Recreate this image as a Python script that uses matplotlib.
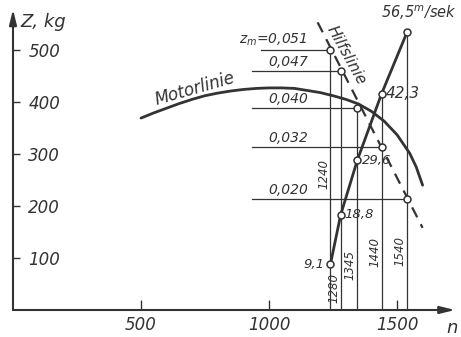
import matplotlib
matplotlib.use("Agg")
import matplotlib.pyplot as plt

# ── Data ─────────────────────────────────────────────────────────────────────

# engine speeds n (1/min) where the construction lines stand
n_pts    = [1240, 1280, 1345, 1440, 1540]
n_labels = ["1240", "1280", "1345", "1440", "1540"]

# Hilfslinie points (Z in kg) and their z_m values
hilfs_z   = [500, 460, 388, 313, 213]
zm_labels = ["0,051", "0,047", "0,040", "0,032", "0,020"]
hilfs_ext_n = [1190, 1600]          # dashed line runs a bit past the points
hilfs_ext_z = [553, 158]

# speed line (thick, through speeds in m/sek)
speed_z      = [88, 183, 288, 416, 535]
speed_labels = ["9,1", "18,8", "29,6", "42,3", "56,5"]

# Motorlinie
motor_n = [500, 550, 600, 650, 700, 750, 800, 850, 900, 950, 1000, 1050,
           1100, 1150, 1200, 1250, 1300, 1350, 1400, 1450, 1500, 1550,
           1575, 1600]
motor_z = [369, 379, 388, 397, 405, 412, 417, 421, 424, 426, 427, 427,
           426, 422, 418, 412, 405, 396, 382, 363, 337, 301,
           275, 240]

x_ticks = [500, 1000, 1500]
y_ticks = [100, 200, 300, 400, 500]

# ── Style ────────────────────────────────────────────────────────────────────

INK = "#333333"
FONT = dict(family="DejaVu Sans", style="italic", color=INK)

plt.rcParams["mathtext.fontset"] = "custom"
plt.rcParams["mathtext.it"] = "DejaVu Sans:italic"
plt.rcParams["mathtext.rm"] = "DejaVu Sans:italic"

# where the rotated n labels sit (Z of their centre)
N_LABEL_Z = [262, 42, 87, 112, 113]
ZM_LABEL_X = 1152

fig = plt.figure(figsize=(4.61, 3.37), dpi=100, facecolor="white")
ax = fig.add_axes([13 / 461, 27 / 337, 448 / 461, 310 / 337])
ax.set_xlim(0, 1750)
ax.set_ylim(0, 596)
for s in ax.spines.values():
    s.set_visible(False)
ax.patch.set_alpha(0)

# axes with arrow heads
arrow = dict(arrowstyle="-|>,head_length=0.9,head_width=0.22", lw=1.5,
             color=INK, shrinkA=0, shrinkB=0, mutation_scale=10)
ax.annotate("", xy=(1727, 0), xytext=(0, 0), arrowprops=arrow,
            annotation_clip=False)
ax.annotate("", xy=(0, 578), xytext=(0, 0), arrowprops=arrow,
            annotation_clip=False)

# ticks point inward, y labels sit right of the axis
ax.set_xticks(x_ticks)
ax.set_yticks(y_ticks)
ax.tick_params(axis="x", direction="in", length=7, width=1.0, color=INK,
               pad=4, labelsize=12, labelcolor=INK)
ax.tick_params(axis="y", direction="in", length=5, width=1.0, color=INK,
               pad=-11, labelsize=12, labelcolor=INK)
for lbl in ax.get_xticklabels() + ax.get_yticklabels():
    lbl.set_fontstyle("italic")
for lbl in ax.get_yticklabels():
    lbl.set_horizontalalignment("left")

ax.text(27, 554, "Z, kg", fontsize=13, ha="left", va="center", **FONT)
ax.text(1715, -34, "n", fontsize=13, ha="center", va="center",
        clip_on=False, **FONT)

# vertical construction lines
for n, hz, sz, lab, lz in zip(n_pts, hilfs_z, speed_z, n_labels, N_LABEL_Z):
    ax.plot([n, n], [0, max(hz, sz)], color=INK, lw=0.9)
    ax.annotate(lab, (n, lz), xytext=(-5, 0), textcoords="offset points",
                rotation=90, ha="center", va="center", fontsize=8.5, **FONT)

# horizontal z_m lines
for i, (n, hz, lab) in enumerate(zip(n_pts, hilfs_z, zm_labels)):
    x0 = 970 if i == 0 else 935
    ax.plot([x0, n], [hz, hz], color=INK, lw=0.9)
    text = r"$z_m$=" + lab if i == 0 else lab
    ax.text(ZM_LABEL_X, hz + 4, text, ha="right", va="bottom",
            fontsize=10, **FONT)

# Motorlinie
ax.plot(motor_n, motor_z, color=INK, lw=2.0, solid_capstyle="round",
        solid_joinstyle="round")
ax.text(712, 426, "Motorlinie", rotation=16, ha="center", va="center",
        fontsize=12, **FONT)

# Hilfslinie (dashed)
ax.plot(hilfs_ext_n, hilfs_ext_z, color=INK, lw=1.6, ls=(0, (5, 3.5)))
ax.plot(n_pts, hilfs_z, "o", ms=5, mfc="white", mec=INK, mew=1.1)
ax.text(1303, 490, "Hilfslinie", rotation=-61, ha="center", va="center",
        fontsize=11, **FONT)

# speed line
ax.plot(n_pts, speed_z, color=INK, lw=2.0, solid_capstyle="round",
        solid_joinstyle="round")
ax.plot(n_pts, speed_z, "o", ms=5, mfc="white", mec=INK, mew=1.1, zorder=5)
for i, (n, z, lab) in enumerate(zip(n_pts, speed_z, speed_labels)):
    if i == 0:
        ax.annotate(lab, (n, z), xytext=(-4, 0), textcoords="offset points",
                    ha="right", va="center", fontsize=9.5, **FONT)
    elif i == len(n_pts) - 1:
        ax.annotate(r"$" + lab.replace(",", "{,}") + r"^{m}/sek$", (n, z),
                    xytext=(8, 7), textcoords="offset points",
                    ha="center", va="bottom", fontsize=10.5, color=INK)
    else:
        ax.annotate(lab, (n, z), xytext=(3, 0), textcoords="offset points",
                    ha="left", va="center",
                    fontsize=11 if lab == "42,3" else 9.5, **FONT)

fig.savefig("out.png", dpi=100, facecolor="white")
